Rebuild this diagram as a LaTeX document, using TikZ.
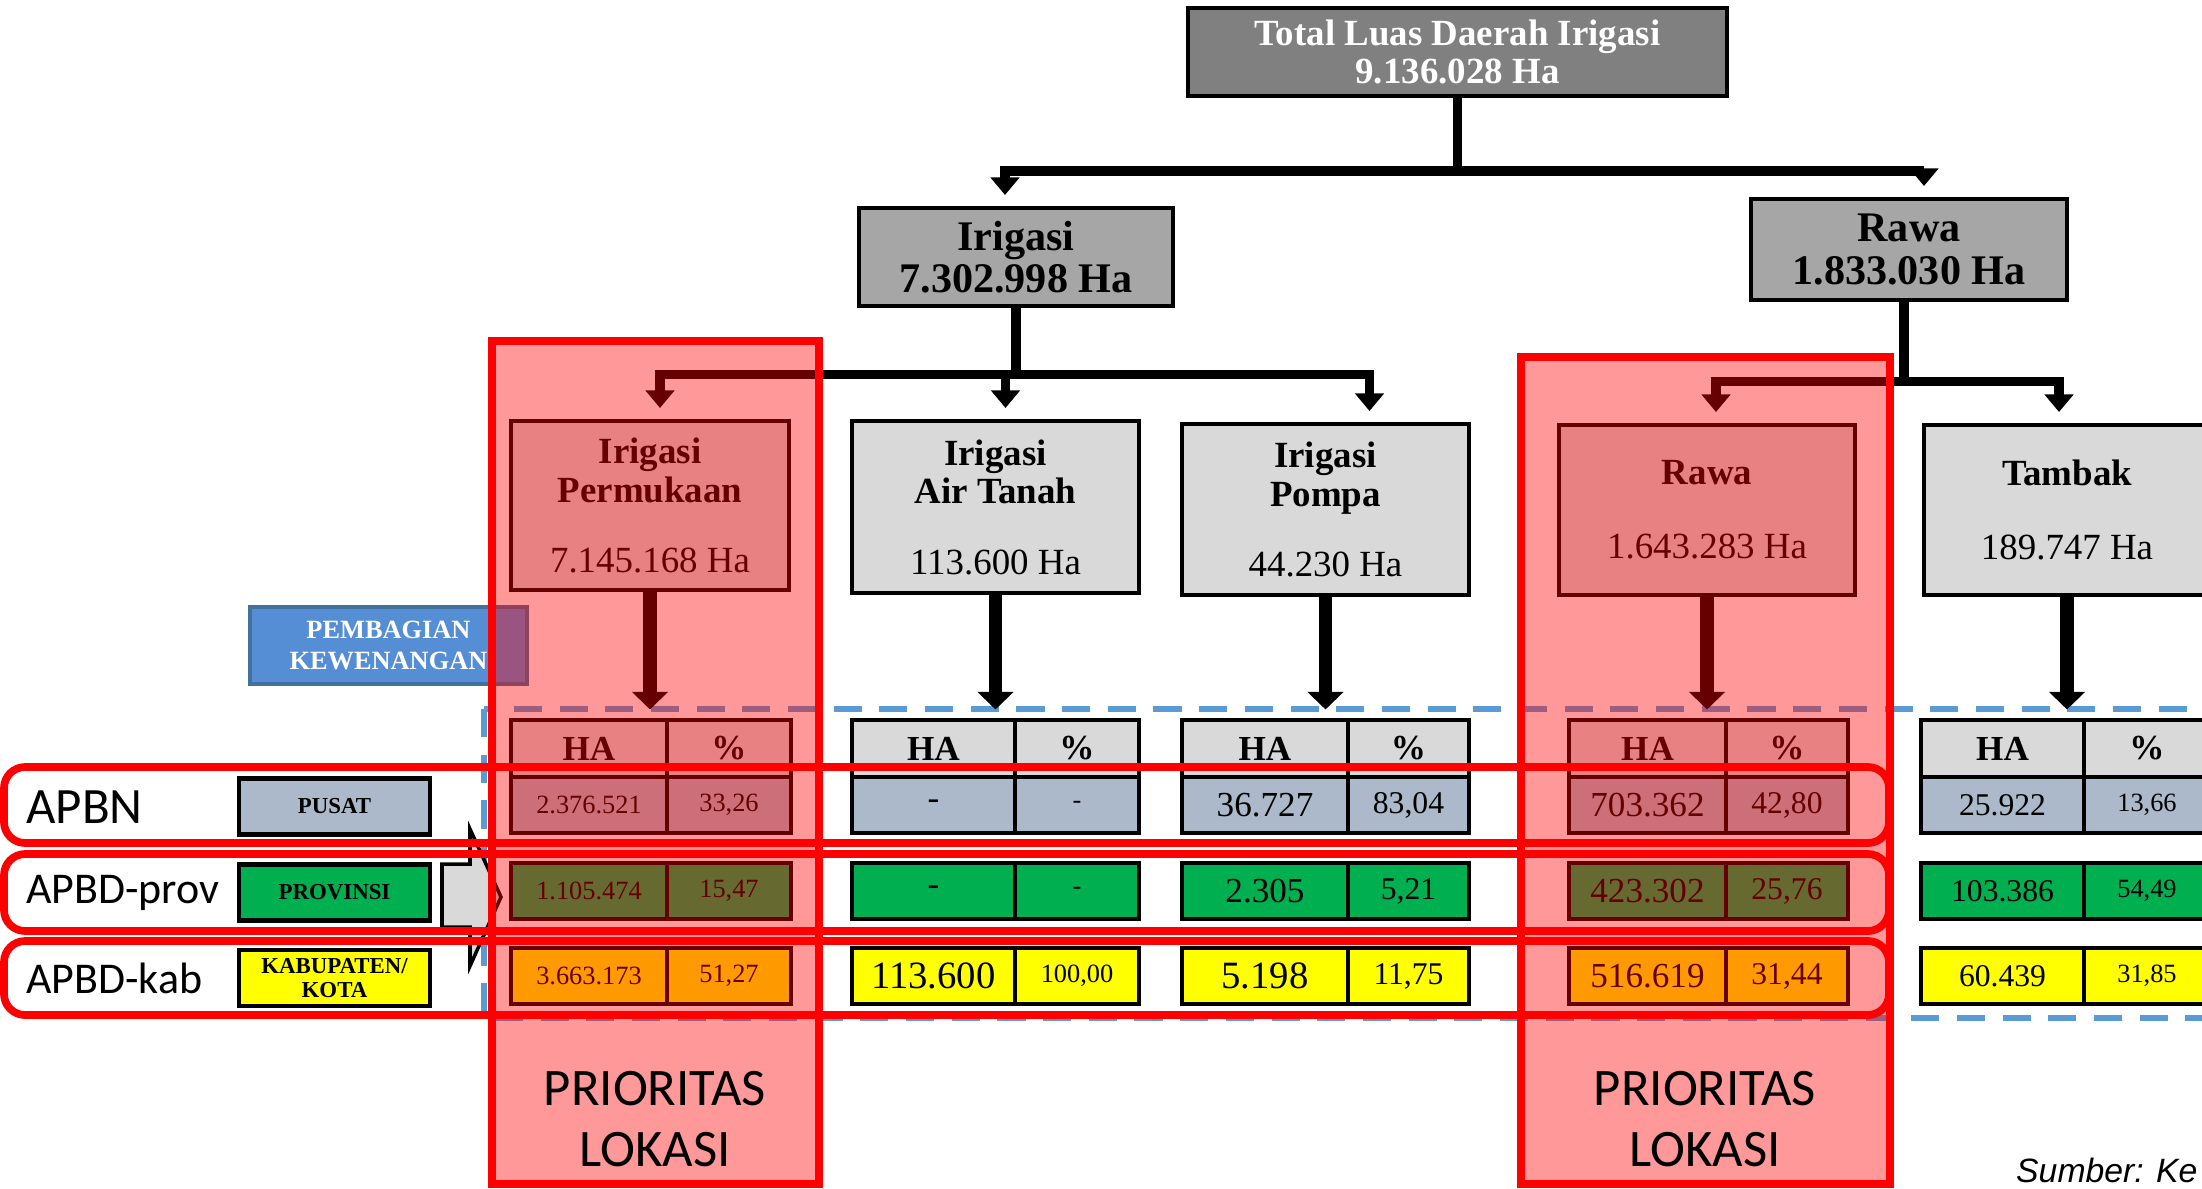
\documentclass[tikz,border=0pt]{standalone}
\usepackage{fontspec}
\setmainfont{Liberation Serif}
\newfontfamily\calibri{Carlito}
\newfontfamily\arialfont{Liberation Sans}
\usepackage{xcolor}
\usetikzlibrary{arrows.meta, positioning}
\definecolor{abutua}{HTML}{808080}
\definecolor{abusedang}{HTML}{A6A6A6}
\definecolor{abumuda}{HTML}{D9D9D9}
\definecolor{biruabu}{HTML}{ACB9CA}
\definecolor{hijau}{HTML}{00B050}
\definecolor{kuning}{HTML}{FFFF00}
\definecolor{birumuda}{HTML}{558ED5}
\definecolor{birugaris}{HTML}{41719C}
\definecolor{garisputus}{HTML}{5B9BD5}
\tikzstyle{totalbox} = [rectangle, minimum width=5.39cm, minimum height=0.82cm, align=center, draw=black, line width=1pt, fill=abutua, text=white, font=\bfseries\fontsize{10.5}{11}\selectfont]
\tikzstyle{indukbox} = [rectangle, minimum width=3.15cm, minimum height=1cm, align=center, draw=black, line width=1.4pt, fill=abusedang, font=\bfseries\fontsize{12}{12}\selectfont]
\tikzstyle{jenisbox} = [rectangle, minimum width=2.87cm, minimum height=1.7cm, align=center, draw=black, line width=1.4pt, fill=abumuda, font=\fontsize{10.5}{11}\selectfont]
\tikzstyle{sel} = [rectangle, draw=black, line width=1.2pt, minimum height=0.56cm, inner sep=0pt, outer sep=0pt]
\tikzstyle{kepala} = [fill=abumuda, minimum height=0.57cm, font=\bfseries\fontsize{10}{10}\selectfont]
\tikzstyle{pusat} = [fill=biruabu]
\tikzstyle{prov} = [fill=hijau]
\tikzstyle{kab} = [fill=kuning]
\tikzstyle{besar} = [font=\fontsize{10}{10}\selectfont]
\tikzstyle{sedang} = [font=\fontsize{9}{9}\selectfont]
\tikzstyle{kecil} = [font=\fontsize{7.5}{7.5}\selectfont]
\tikzstyle{label} = [rectangle, draw=black, line width=1.2pt, minimum width=1.91cm, minimum height=0.56cm, inner sep=0pt, align=center, font=\bfseries\fontsize{6.5}{7}\selectfont]
\tikzstyle{sumber} = [anchor=west, font=\calibri\fontsize{12.5}{15}\selectfont]
\tikzstyle{arrow} = [line width=2.8pt, -{Triangle[width=8pt,length=5pt]}, shorten >=3pt]
\tikzstyle{bigarrow} = [line width=3.8pt, -{Triangle[width=10pt,length=5pt]}, shorten >=3pt]
\tikzstyle{prioritas} = [fill=red, fill opacity=0.4, draw=red, draw opacity=1, line width=2.2pt]
\tikzstyle{barisbox} = [draw=red, line width=2.2pt, rounded corners=6pt]

\begin{document}
\begin{tikzpicture}
\useasboundingbox (0,0) rectangle (22.02,-11.88);
\clip (0,0) rectangle (22.02,-11.88);

% pohon luas
\node (total) [totalbox] at (14.575,-0.52) {Total Luas Daerah Irigasi\\9.136.028 Ha};
\node (irigasi) [indukbox, minimum width=3.14cm, minimum height=0.98cm] at (10.16,-2.57) {Irigasi\\7.302.998 Ha};
\node (rawa) [indukbox, minimum width=3.16cm, minimum height=1.01cm] at (19.09,-2.495) {Rawa\\1.833.030 Ha};

\node (perm) [jenisbox, minimum width=2.78cm, minimum height=1.69cm] at (6.50,-5.055) {\textbf{Irigasi}\\\textbf{Permukaan}\\[9pt]7.145.168 Ha};
\node (air) [jenisbox, minimum height=1.72cm] at (9.955,-5.07) {\textbf{Irigasi}\\\textbf{Air Tanah}\\[9pt]113.600 Ha};
\node (pompa) [jenisbox, minimum height=1.71cm] at (13.255,-5.095) {\textbf{Irigasi}\\\textbf{Pompa}\\[9pt]44.230 Ha};
\node (rawasub) [jenisbox, minimum width=2.96cm] at (17.07,-5.10) {\textbf{Rawa}\\[10pt]1.643.283 Ha};
\node (tambak) [jenisbox, minimum width=2.86cm] at (20.67,-5.10) {\textbf{Tambak}\\[10pt]189.747 Ha};

\draw [arrow] (total.south) -- ++(0,-0.73) -| ([xshift=-0.11cm]irigasi.north);
\draw [arrow] (total.south) -- ++(0,-0.73) -| ([xshift=0.15cm]rawa.north);
\draw [arrow] (irigasi.south) -- ++(0,-0.66) -| ([xshift=0.1cm]perm.north);
\draw [arrow] (irigasi.south) -- ++(0,-0.66) -| ([xshift=0.1cm]air.north);
\draw [arrow] (irigasi.south) -- ++(0,-0.66) -| ([xshift=0.44cm]pompa.north);
\draw [arrow] ([xshift=-0.05cm]rawa.south) -- ++(0,-0.79) -| ([xshift=0.09cm]rawasub.north);
\draw [arrow] ([xshift=-0.05cm]rawa.south) -- ++(0,-0.79) -| ([xshift=-0.08cm]tambak.north);

% pembagian kewenangan
\node (pembagian) [rectangle, draw=birugaris, line width=1pt, fill=birumuda, text=white, minimum width=2.77cm, minimum height=0.77cm, align=center, font=\bfseries\fontsize{7.5}{9}\selectfont] at (3.885,-6.455) {PEMBAGIAN\\KEWENANGAN};
\draw [draw=garisputus, line width=1.6pt, dash pattern=on 8pt off 5pt] (4.84,-7.09) rectangle (22.6,-10.18);

\node (pusat) [label, pusat] at (3.345,-8.065) {PUSAT};
\node (provinsi) [label, prov] at (3.345,-8.925) {PROVINSI};
\node (kabkota) [label, kab] at (3.345,-9.78) {KABUPATEN/\\KOTA};
\draw [fill=abumuda, draw=black, line width=1pt] (4.42,-8.64) -- (4.70,-8.64) -- (4.70,-8.29) -- (5.01,-8.97) -- (4.70,-9.66) -- (4.70,-9.27) -- (4.42,-9.27) -- cycle;

% tabel irigasi permukaan
\node (permha) [sel, kepala, minimum width=1.56cm] at (5.89,-7.485) {HA};
\node (permpr) [sel, kepala, minimum width=1.24cm, right=0pt of permha] {\%};
\node (perm1) [sel, pusat, kecil, minimum width=1.56cm, below=0pt of permha] {2.376.521};
\node (perm1p) [sel, pusat, kecil, minimum width=1.24cm, right=0pt of perm1] {33,26};
\node (perm2) [sel, prov, kecil, minimum width=1.56cm, below=0.3cm of perm1] {1.105.474};
\node (perm2p) [sel, prov, kecil, minimum width=1.24cm, right=0pt of perm2] {15,47};
\node (perm3) [sel, kab, kecil, minimum width=1.56cm, below=0.29cm of perm2] {3.663.173};
\node (perm3p) [sel, kab, kecil, minimum width=1.24cm, right=0pt of perm3] {51,27};

% tabel irigasi air tanah
\node (airha) [sel, kepala, minimum width=1.63cm] at (9.335,-7.485) {HA};
\node (airpr) [sel, kepala, minimum width=1.24cm, right=0pt of airha] {\%};
\node (air1) [sel, pusat, besar, minimum width=1.63cm, below=0pt of airha] {-};
\node (air1p) [sel, pusat, kecil, minimum width=1.24cm, right=0pt of air1] {-};
\node (air2) [sel, prov, besar, minimum width=1.63cm, below=0.3cm of air1] {-};
\node (air2p) [sel, prov, kecil, minimum width=1.24cm, right=0pt of air2] {-};
\node (air3) [sel, kab, font=\fontsize{11}{11}\selectfont, minimum width=1.63cm, below=0.29cm of air2] {113.600};
\node (air3p) [sel, kab, kecil, minimum width=1.24cm, right=0pt of air3] {100,00};

% tabel irigasi pompa
\node (pompaha) [sel, kepala, minimum width=1.66cm] at (12.65,-7.485) {HA};
\node (pompapr) [sel, kepala, minimum width=1.21cm, right=0pt of pompaha] {\%};
\node (pompa1) [sel, pusat, besar, minimum width=1.66cm, below=0pt of pompaha] {36.727};
\node (pompa1p) [sel, pusat, sedang, minimum width=1.21cm, right=0pt of pompa1] {83,04};
\node (pompa2) [sel, prov, besar, minimum width=1.66cm, below=0.3cm of pompa1] {2.305};
\node (pompa2p) [sel, prov, sedang, minimum width=1.21cm, right=0pt of pompa2] {5,21};
\node (pompa3) [sel, kab, font=\fontsize{11}{11}\selectfont, minimum width=1.66cm, below=0.29cm of pompa2] {5.198};
\node (pompa3p) [sel, kab, sedang, minimum width=1.21cm, right=0pt of pompa3] {11,75};

% tabel rawa
\node (rawaha) [sel, kepala, minimum width=1.57cm] at (16.475,-7.485) {HA};
\node (rawapr) [sel, kepala, minimum width=1.22cm, right=0pt of rawaha] {\%};
\node (rawa1) [sel, pusat, besar, minimum width=1.57cm, below=0pt of rawaha] {703.362};
\node (rawa1p) [sel, pusat, sedang, minimum width=1.22cm, right=0pt of rawa1] {42,80};
\node (rawa2) [sel, prov, besar, minimum width=1.57cm, below=0.3cm of rawa1] {423.302};
\node (rawa2p) [sel, prov, sedang, minimum width=1.22cm, right=0pt of rawa2] {25,76};
\node (rawa3) [sel, kab, besar, minimum width=1.57cm, below=0.29cm of rawa2] {516.619};
\node (rawa3p) [sel, kab, sedang, minimum width=1.22cm, right=0pt of rawa3] {31,44};

% tabel tambak
\node (tambakha) [sel, kepala, minimum width=1.63cm] at (20.025,-7.485) {HA};
\node (tambakpr) [sel, kepala, minimum width=1.26cm, right=0pt of tambakha] {\%};
\node (tambak1) [sel, pusat, sedang, minimum width=1.63cm, below=0pt of tambakha] {25.922};
\node (tambak1p) [sel, pusat, kecil, minimum width=1.26cm, right=0pt of tambak1] {13,66};
\node (tambak2) [sel, prov, sedang, minimum width=1.63cm, below=0.3cm of tambak1] {103.386};
\node (tambak2p) [sel, prov, kecil, minimum width=1.26cm, right=0pt of tambak2] {54,49};
\node (tambak3) [sel, kab, sedang, minimum width=1.63cm, below=0.29cm of tambak2] {60.439};
\node (tambak3p) [sel, kab, kecil, minimum width=1.26cm, right=0pt of tambak3] {31,85};

\draw [bigarrow] (perm.south) -- (perm.south |- permha.north);
\draw [bigarrow] (air.south) -- (air.south |- airha.north);
\draw [bigarrow] (pompa.south) -- (pompa.south |- pompaha.north);
\draw [bigarrow] (rawasub.south) -- (rawasub.south |- rawaha.north);
\draw [bigarrow] (tambak.south) -- (tambak.south |- tambakha.north);

% sorotan merah
\draw [prioritas] (4.92,-3.41) rectangle (8.19,-11.84);
\draw [prioritas] (15.21,-3.57) rectangle (18.90,-11.84);
\draw [barisbox] (0.04,-7.67) rectangle (18.89,-8.43);
\draw [barisbox] (0.04,-8.54) rectangle (18.89,-9.31);
\draw [barisbox] (0.04,-9.41) rectangle (18.89,-10.15);

\node (apbn) [sumber, font=\calibri\fontsize{14.5}{17}\selectfont] at (0.14,-8.07) {APBN};
\node (apbdprov) [sumber] at (0.14,-8.93) {APBD-prov};
\node (apbdkab) [sumber] at (0.14,-9.78) {APBD-kab};
\node (priokiri) [align=center, font=\calibri\fontsize{15}{17.5}\selectfont] at (6.55,-11.19) {PRIORITAS\\LOKASI};
\node (priokanan) [align=center, font=\calibri\fontsize{15}{17.5}\selectfont] at (17.05,-11.19) {PRIORITAS\\LOKASI};
\node (sumberdata) [anchor=west, inner sep=1pt, font=\arialfont\itshape\fontsize{9.6}{11}\selectfont] at (20.12,-11.7) {Sumber: Ke};

\end{tikzpicture}
\end{document}
